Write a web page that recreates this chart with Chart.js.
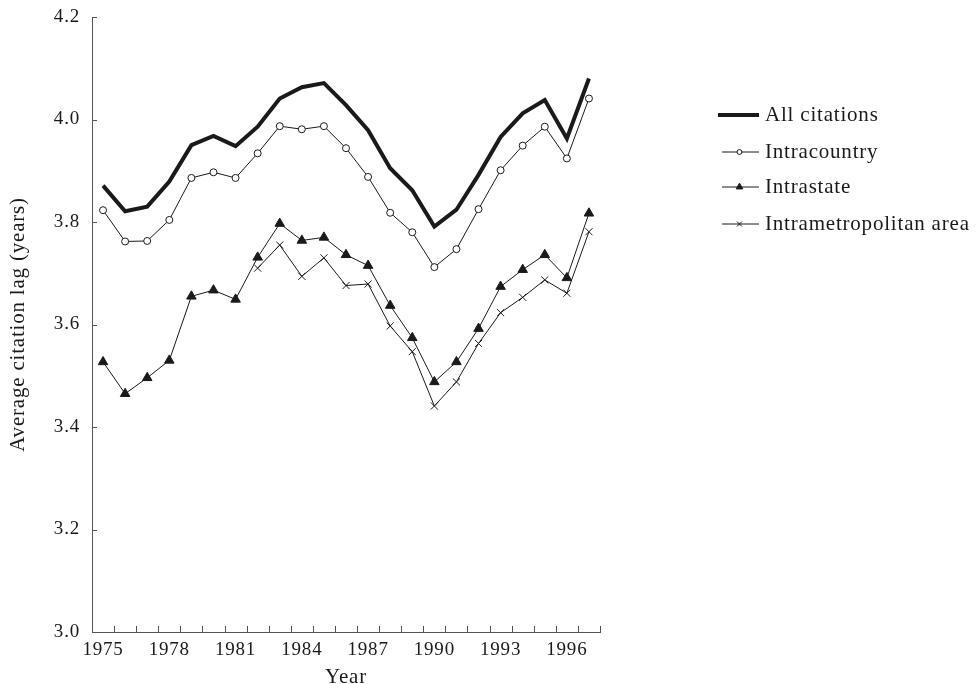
<!DOCTYPE html>
<html>
<head>
<meta charset="utf-8">
<script src="https://cdn.jsdelivr.net/npm/chart.js@4.4.0/dist/chart.umd.min.js"></script>
<style>
  html, body { margin: 0; padding: 0; background: #fff; }
  #wrap { width: 980px; height: 684px; }
</style>
</head>
<body>
<div id="wrap"><canvas id="lagChart" width="980" height="684"></canvas></div>
<script>
const years = [1975,1976,1977,1978,1979,1980,1981,1982,1983,1984,1985,1986,1987,1988,1989,1990,1991,1992,1993,1994,1995,1996,1997];
const shownYears = [1975,1978,1981,1984,1987,1990,1993,1996];
const yTickValues = [3.0,3.2,3.4,3.6,3.8,4.0,4.2];

const allCitations = [3.871,3.821,3.830,3.879,3.950,3.968,3.948,3.986,4.041,4.063,4.071,4.028,3.979,3.905,3.862,3.791,3.824,3.892,3.966,4.012,4.038,3.963,4.080];
const intracountry = [3.823,3.762,3.763,3.804,3.886,3.897,3.886,3.934,3.987,3.981,3.987,3.944,3.888,3.818,3.780,3.712,3.747,3.825,3.901,3.949,3.986,3.924,4.041];
const intrastate = [3.527,3.465,3.496,3.530,3.655,3.667,3.649,3.731,3.797,3.764,3.770,3.736,3.715,3.637,3.574,3.488,3.527,3.592,3.674,3.707,3.736,3.691,3.817];
const intrametro = [null,null,null,null,null,null,null,3.710,3.755,3.694,3.730,3.676,3.679,3.597,3.547,3.441,3.488,3.563,3.623,3.653,3.687,3.661,3.781];

const FONT = "'Liberation Serif', 'DejaVu Serif', serif";
const INK = "#1a1a1a";
const AXIS = "#555";

// ticks drawn inward + legend on the right
const extras = {
  id: "extras",
  beforeLayout(chart) {
    chart.ctx.letterSpacing = "0.8px";
  },
  beforeDraw(chart) {
    chart.ctx.letterSpacing = "0.8px";
  },
  afterDraw(chart) {
    const ctx = chart.ctx;
    const x = chart.scales.x;
    const y = chart.scales.y;
    const area = chart.chartArea;

    ctx.save();
    ctx.strokeStyle = AXIS;
    ctx.lineWidth = 1;
    ctx.beginPath();
    yTickValues.forEach(v => {
      const py = Math.round(y.getPixelForValue(v)) + 0.5;
      ctx.moveTo(area.left, py);
      ctx.lineTo(area.left + 5, py);
    });
    for (let i = 0; i < years.length; i++) {
      const a = x.getPixelForValue(i);
      const b = i < years.length - 1 ? x.getPixelForValue(i + 1) : a + (a - x.getPixelForValue(i - 1));
      const px = Math.round((a + b) / 2) + 0.5;
      ctx.moveTo(px, area.bottom);
      ctx.lineTo(px, area.bottom - 6);
    }
    ctx.stroke();

    // legend
    const rowY = [115, 152, 187, 224];
    chart.data.datasets.forEach((ds, i) => {
      const yy = rowY[i];
      ctx.strokeStyle = ds.borderColor;
      ctx.lineWidth = ds.borderWidth;
      ctx.beginPath();
      ctx.moveTo(ds.borderWidth > 2 ? 718 : 722, yy);
      ctx.lineTo(759, yy);
      ctx.stroke();
      if (ds.pointRadius > 0) {
        ctx.fillStyle = ds.pointBackgroundColor;
        ctx.strokeStyle = ds.pointBorderColor;
        ctx.lineWidth = 1;
        Chart.helpers.drawPoint(ctx, {
          pointStyle: ds.pointStyle,
          radius: ds.pointRadius * 0.7,
          rotation: 0,
          borderWidth: 1
        }, 739.5, yy);
      }
      ctx.fillStyle = INK;
      ctx.font = "21px " + FONT;
      ctx.textAlign = "left";
      ctx.textBaseline = "middle";
      ctx.fillText(ds.label, 765, yy);
    });
    ctx.restore();
  }
};

const ctx = document.getElementById("lagChart");

const chart = new Chart(ctx, {
  type: "line",
  data: {
    labels: years,
    datasets: [
      {
        label: "All citations",
        data: allCitations,
        borderColor: INK,
        borderWidth: 4,
        pointRadius: 0,
        tension: 0
      },
      {
        label: "Intracountry",
        data: intracountry,
        borderColor: INK,
        borderWidth: 1,
        pointStyle: "circle",
        pointRadius: 3.5,
        pointBackgroundColor: "#fff",
        pointBorderColor: INK,
        pointBorderWidth: 1,
        tension: 0
      },
      {
        label: "Intrastate",
        data: intrastate,
        borderColor: INK,
        borderWidth: 1,
        pointStyle: "triangle",
        pointRadius: 5.5,
        pointBackgroundColor: INK,
        pointBorderColor: INK,
        pointBorderWidth: 1,
        tension: 0
      },
      {
        label: "Intrametropolitan area",
        data: intrametro,
        borderColor: INK,
        borderWidth: 1,
        pointStyle: "crossRot",
        pointRadius: 5,
        pointBackgroundColor: INK,
        pointBorderColor: INK,
        pointBorderWidth: 1,
        tension: 0
      }
    ]
  },
  options: {
    responsive: false,
    animation: false,
    devicePixelRatio: 1,
    layout: { padding: { top: 17, right: 380, left: 0, bottom: 0 } },
    plugins: {
      legend: { display: false },
      tooltip: { enabled: false }
    },
    scales: {
      x: {
        type: "category",
        offset: true,
        afterFit(scale) {
          scale.height = 52;
          scale.paddingLeft = 0;
          scale.paddingRight = 0;
        },
        border: { display: true, color: AXIS, width: 1 },
        grid: { display: false, drawTicks: false },
        ticks: {
          autoSkip: false,
          maxRotation: 0,
          padding: 7,
          color: INK,
          font: { family: FONT, size: 19 },
          callback: function (val, i) {
            const yr = years[i];
            return shownYears.includes(yr) ? String(yr) : "";
          }
        },
        title: {
          display: true,
          text: "Year",
          color: INK,
          font: { family: FONT, size: 21 },
          padding: { top: 0, bottom: -6 }
        }
      },
      y: {
        min: 3.0,
        max: 4.2,
        afterFit(scale) {
          scale.width = 92;
          scale.paddingTop = 0;
          scale.paddingBottom = 0;
        },
        afterBuildTicks(scale) { scale.ticks = yTickValues.map(v => ({ value: v })); },
        border: { display: true, color: AXIS, width: 1 },
        grid: { display: false, drawTicks: false },
        ticks: {
          padding: 12,
          color: INK,
          font: { family: FONT, size: 19 },
          callback: v => v.toFixed(1)
        },
        title: {
          display: true,
          text: "Average citation lag (years)",
          color: INK,
          font: { family: FONT, size: 21 },
          padding: { top: 6, bottom: 0 }
        }
      }
    }
  },
  plugins: [extras]
});
</script>
</body>
</html>
